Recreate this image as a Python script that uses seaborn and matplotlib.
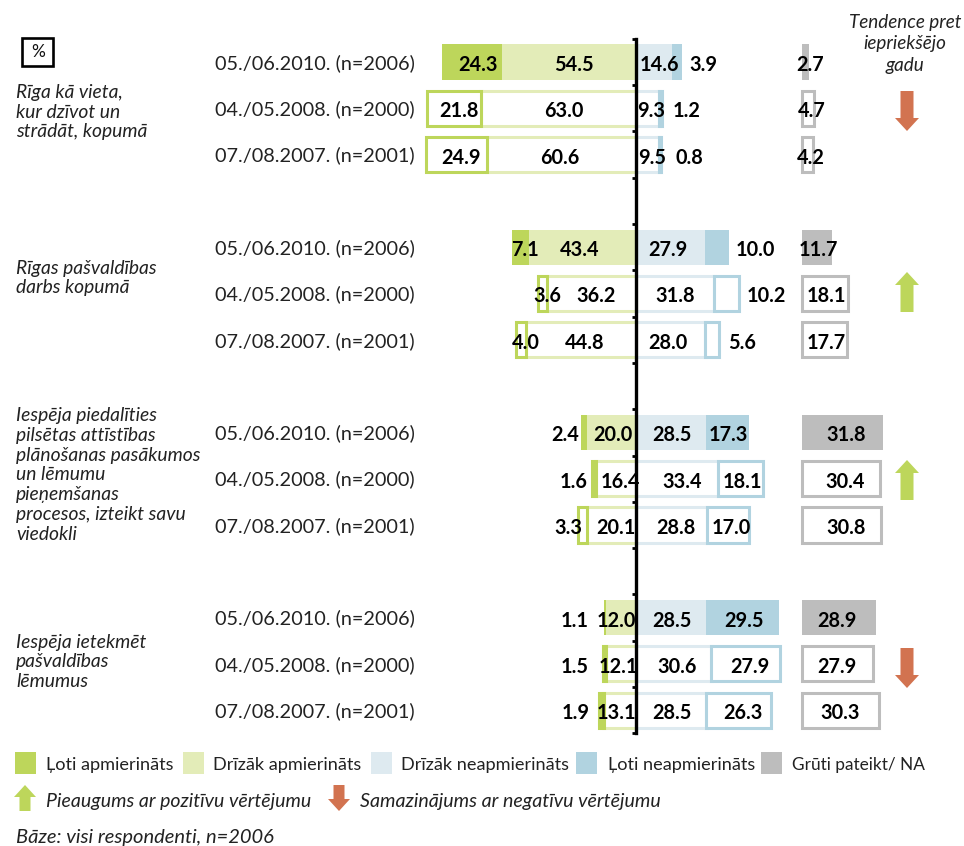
import numpy as np
import pandas as pd
import matplotlib
matplotlib.use("Agg")
import matplotlib.pyplot as plt
from matplotlib.patches import FancyArrow, Rectangle
import seaborn as sns

# ---- data ----
rows = [0, 1, 2, 4, 5, 6, 8, 9, 10, 12, 13, 14]
dates = ["05./06.2010. (n=2006)", "04./05.2008. (n=2000)", "07./08.2007. (n=2001)"] * 4
loti_apm = [24.3, 21.8, 24.9, 7.1, 3.6, 4.0, 2.4, 1.6, 3.3, 1.1, 1.5, 1.9]
drizak_apm = [54.5, 63.0, 60.6, 43.4, 36.2, 44.8, 20.0, 16.4, 20.1, 12.0, 12.1, 13.1]
drizak_neapm = [14.6, 9.3, 9.5, 27.9, 31.8, 28.0, 28.5, 33.4, 28.8, 28.5, 30.6, 28.5]
loti_neapm = [3.9, 1.2, 0.8, 10.0, 10.2, 5.6, 17.3, 18.1, 17.0, 29.5, 27.9, 26.3]
gruti = [2.7, 4.7, 4.2, 11.7, 18.1, 17.7, 31.8, 30.4, 30.8, 28.9, 27.9, 30.3]
legend_names = ["Ļoti apmierināts", "Drīzāk apmierināts", "Drīzāk neapmierināts",
                "Ļoti neapmierināts", "Grūti pateikt/ NA"]
group_labels = [
    "Rīga kā vieta,\nkur dzīvot un\nstrādāt, kopumā",
    "Rīgas pašvaldības\ndarbs kopumā",
    "Iespēja piedalīties\npilsētas attīstības\nplānošanas pasākumos\nun lēmumu\npieņemšanas\nprocesos, izteikt savu\nviedokli",
    "Iespēja ietekmēt\npašvaldības\nlēmumus",
]
trend = ["down", "up", "up", "down"]

# ---- layout and style ----
W, H = 964, 846
PX_PER_UNIT = 2.46
GREY_PX_PER_UNIT = 2.55
ZERO_PX = 636
ROW0_PX, ROW_PX = 62, 46.3
GREY_START_PX = 802
FONT = "Lato"
TEXT_PT = 14.3
C_DG, C_LG, C_LB, C_DB, C_GR = "#BDD65B", "#E3ECB8", "#DEEAF0", "#B1D3E0", "#BDBDBD"
C_UP, C_DOWN = "#BDD65B", "#D27350"
label_px = {
    "dg": [478, 459, 461, 525, 547, 526, 565, 574, 568, 575, 575, 576],
    "lg": [574, 564, 560, 580, 596, 585, 613, 620, 616, 616, 618, 616],
    "lb": [659, 651, 652, 668, 675, 668, 672, 682, 676, 672, 677, 672],
    "db": [703, 687, 689, 755, 766, 742, 728, 742, 731, 744, 750, 743],
    "gr": [810, 812, 811, 818, 826, 826, 846, 845, 846, 837, 837, 840],
}

sns.set_theme(style="white")
plt.rcParams["font.family"] = [FONT, "DejaVu Sans"]
fig = plt.figure(figsize=(W / 100, H / 100), dpi=100, facecolor="white")
ax = fig.add_axes([0, 0, 1, 1])
axg = fig.add_axes([0, 0, 1, 1], facecolor="none")

a1, a2, b1, b2, g = map(np.array, (loti_apm, drizak_apm, drizak_neapm, loti_neapm, gruti))
series = [
    (ax, b1, 0 * b1, C_LB),
    (ax, b2, b1, C_DB),
    (ax, a2, -a2, C_LG),
    (ax, a1, -(a1 + a2), C_DG),
    (axg, g, 0 * g, C_GR),
]
for target, vals, lefts, col in series:
    before = len(target.patches)
    df = pd.DataFrame({"row": rows, "value": vals})
    sns.barplot(data=df, x="value", y="row", orient="h", native_scale=True, color=col,
                saturation=1, width=0.76, errorbar=None, left=lefts, ax=target, zorder=1)
    for patch, row, v in zip(target.patches[before:], rows, vals):
        if row % 4 != 0:
            # very thin outlined bars read as solid strips
            patch.set_facecolor(col if v < 2 and col == C_DG else "white")
            patch.set_edgecolor(col)
            patch.set_linewidth(2.2)
            patch.set_joinstyle("miter")
        else:
            patch.set_edgecolor("none")
            patch.set_linewidth(0)

ax.set_xlim(-ZERO_PX / PX_PER_UNIT, (W - ZERO_PX) / PX_PER_UNIT)
axg.set_xlim(-GREY_START_PX / GREY_PX_PER_UNIT, (W - GREY_START_PX) / GREY_PX_PER_UNIT)
for a in (ax, axg):
    a.set_ylim((H - ROW0_PX) / ROW_PX, -ROW0_PX / ROW_PX)
    for s in ("top", "right", "bottom"):
        a.spines[s].set_visible(False)
    a.set_xticks([])
    a.set_xlabel("")
    a.set_ylabel("")
axg.spines["left"].set_visible(False)
axg.set_yticks([])
ax.spines["left"].set_position(("data", 0))
ax.spines["left"].set_bounds(-0.5, 14.5)
ax.spines["left"].set_linewidth(2.4)
ax.spines["left"].set_color("black")
ax.spines["left"].set_zorder(5)
ax.set_yticks(np.arange(-0.5, 15, 1))
ax.set_yticklabels([])
ax.tick_params(axis="y", left=True, length=3, width=2, color="black")

# overlay in pixel coordinates for annotation
ov = fig.add_axes([0, 0, 1, 1], facecolor="none")
ov.set_xlim(0, W)
ov.set_ylim(H, 0)
ov.axis("off")


def T(x, y, s, **kw):
    kw.setdefault("fontsize", TEXT_PT)
    kw.setdefault("color", "#111111")
    kw.setdefault("va", "center")
    return ov.text(x, y, s, **kw)


def arrow(xc, y0, y1, col, shaft=13, head=24, hl=13):
    ov.add_patch(FancyArrow(xc, y0, 0, y1 - y0, width=shaft, head_width=head, head_length=hl,
                            length_includes_head=True, color=col, lw=0))


for i, row in enumerate(rows):
    y = ROW0_PX + row * ROW_PX
    T(215, y + 1, dates[i], color="#222222")
    for key, vals in zip(("dg", "lg", "lb", "db", "gr"), (a1, a2, b1, b2, g)):
        T(label_px[key][i], y + 3, f"{vals[i]:.1f}", ha="center", weight="bold", color="black")

for lab, y in zip(group_labels, (112, 278, 475, 662)):
    T(16, y, lab, style="italic", fontsize=13.9, linespacing=1.21, color="#222222",
      multialignment="left")

T(905, 44, "Tendence pret\niepriekšējo\ngadu", style="italic", ha="center", multialignment="center",
  fontsize=13.6, linespacing=1.3, color="#222222")
ov.add_patch(Rectangle((22, 38), 31, 28, fc="white", ec="black", lw=1.9))
T(38, 52, "%", ha="center", fontsize=12.5)

for (y0, y1), d in zip(((91, 131), (272, 312), (460, 500), (648, 688)), trend):
    if d == "up":
        arrow(907, y1, y0, C_UP)
    else:
        arrow(907, y0, y1, C_DOWN)

for x, tx, col, name, fs in zip((15, 183, 371, 576, 761), (46, 213, 401, 608, 792),
                                (C_DG, C_LG, C_LB, C_DB, C_GR), legend_names,
                                (13.1, 13.1, 13.1, 13.1, 12.4)):
    ov.add_patch(Rectangle((x, 752), 21, 22, fc=col, ec="none"))
    T(tx, 765, name, fontsize=fs, color="#222222")

arrow(25, 811, 785, C_UP, shaft=11, head=22, hl=12)
arrow(339, 785, 811, C_DOWN, shaft=11, head=22, hl=12)
T(46, 802, "Pieaugums ar pozitīvu vērtējumu", style="italic", fontsize=14, color="#222222")
T(360, 802, "Samazinājums ar negatīvu vērtējumu", style="italic", fontsize=14.1, color="#222222")
T(16, 838, "Bāze: visi respondenti, n=2006", style="italic", fontsize=14.5, color="#222222")

fig.savefig("out.png", dpi=100)
